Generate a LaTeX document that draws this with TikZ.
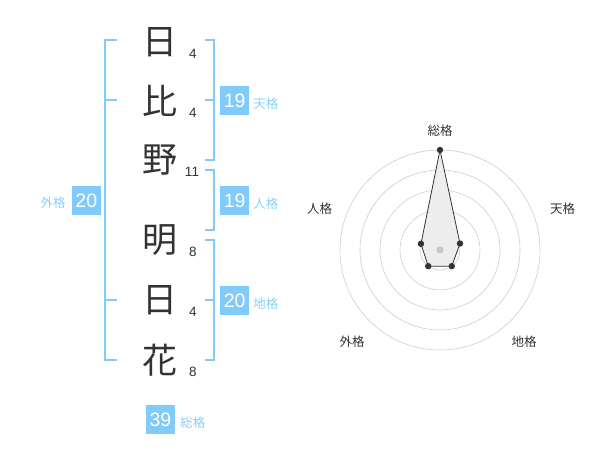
\documentclass[tikz,border=0pt]{standalone}
\usepackage{fontspec}
\setmainfont{Liberation Sans}
\newfontfamily\jpfont{Noto Sans CJK JP}
\usetikzlibrary{calc}
\definecolor{kakublue}{HTML}{80CBFA}
\definecolor{kakutext}{HTML}{8ACFF5}
\definecolor{inkgray}{HTML}{333333}

\begin{document}
\begin{tikzpicture}[x=1pt, y=1pt, line width=0.8pt,
    kanji/.style={font=\jpfont\fontsize{35}{35}\selectfont, text=inkgray, inner sep=0pt},
    stroke/.style={font=\fontsize{13.5}{13.5}\selectfont, text=inkgray, inner sep=0pt},
    kakubox/.style={fill=kakublue, text=white, minimum size=29pt, inner sep=0pt, font=\fontsize{19.5}{19.5}\selectfont},
    kakulabel/.style={text=kakutext, inner sep=0pt, font=\jpfont\fontsize{12.5}{12.5}\selectfont},
    bracket/.style={draw=kakublue, line width=1.6pt},
    axislabel/.style={text=inkgray, inner sep=0pt, font=\jpfont\fontsize{12.5}{12.5}\selectfont}]
  \useasboundingbox (0,0) rectangle (600,470);
  % name, one character per row
  \node[kanji] (c1) at (160,428) {日};
  \node[kanji] (c2) at (160,369) {比};
  \node[kanji] (c3) at (160,310) {野};
  \node[kanji] (c4) at (160,230) {明};
  \node[kanji] (c5) at (160,170) {日};
  \node[kanji] (c6) at (160,110) {花};
  % stroke counts
  \node[stroke] (s1) at (193,416) {4};
  \node[stroke] (s2) at (193,357) {4};
  \node[stroke] (s3) at (192,298) {11};
  \node[stroke] (s4) at (193,218) {8};
  \node[stroke] (s5) at (193,158) {4};
  \node[stroke] (s6) at (193,98) {8};
  % brackets
  \draw[bracket] (117,430) -- (105,430) -- (105,110) -- (117,110);
  \draw[bracket] (105,370) -- (117,370);
  \draw[bracket] (105,170) -- (117,170);
  \draw[bracket] (205,430) -- (214,430) -- (214,310) -- (205,310);
  \draw[bracket] (205,370) -- (214,370);
  \draw[bracket] (205,300) -- (214,300) -- (214,240) -- (205,240);
  \draw[bracket] (205,230) -- (214,230) -- (214,110) -- (205,110);
  \draw[bracket] (205,170) -- (214,170);
  % totals
  \node[kakubox] (ten) at (234.7,369.5) {19};
  \node[kakulabel, anchor=west] (tenl) at (253,366) {天格};
  \node[kakubox] (jin) at (234.7,269.5) {19};
  \node[kakulabel, anchor=west] (jinl) at (253,266) {人格};
  \node[kakubox] (chi) at (234.7,169.5) {20};
  \node[kakulabel, anchor=west] (chil) at (253,166) {地格};
  \node[kakubox] (gai) at (86.3,269.5) {20};
  \node[kakulabel, anchor=east] (gail) at (66,267) {外格};
  \node[kakubox] (sou) at (160.5,50.5) {39};
  \node[kakulabel, anchor=west] (soul) at (180,47.5) {総格};
  % radar chart
  \coordinate (o) at (440,220);
  \foreach \r in {20,40,60,80,100}
    \draw[black!20, line width=0.6pt] (o) circle (\r);
  \coordinate (p1) at ($(o)+(90:100)$);
  \coordinate (p2) at ($(o)+(18:21)$);
  \coordinate (p3) at ($(o)+(-54:20)$);
  \coordinate (p4) at ($(o)+(-126:20)$);
  \coordinate (p5) at ($(o)+(162:20)$);
  \filldraw[fill=black!7, draw=inkgray, line width=0.8pt] (p1) -- (p2) -- (p3) -- (p4) -- (p5) -- cycle;
  \fill[black!22] (o) circle (3.5);
  \foreach \p in {p1,p2,p3,p4,p5}
    \fill[inkgray] (\p) circle (3.2);
  \node[axislabel] (a1) at (440,339.5) {総格};
  \node[axislabel] (a2) at (562.5,261) {天格};
  \node[axislabel] (a3) at (524,128) {地格};
  \node[axislabel] (a4) at (352,128) {外格};
  \node[axislabel] (a5) at (319.5,261) {人格};
\end{tikzpicture}
\end{document}
